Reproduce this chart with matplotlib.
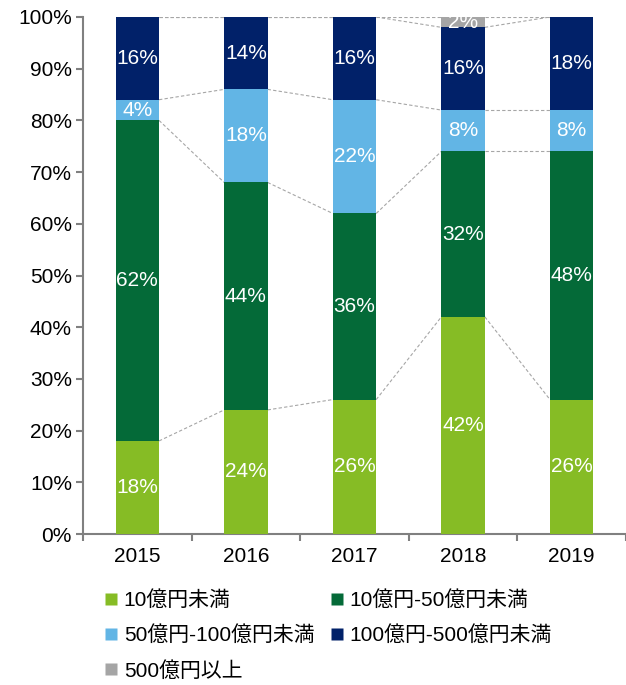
import matplotlib
matplotlib.use("Agg")
import matplotlib.pyplot as plt
from matplotlib.lines import Line2D
import numpy as np

plt.rcParams['font.family'] = ['Liberation Sans', 'Noto Sans CJK JP', 'DejaVu Sans']

years = ["2015", "2016", "2017", "2018", "2019"]
series_names = ["10億円未満", "10億円-50億円未満", "50億円-100億円未満", "100億円-500億円未満", "500億円以上"]
s_lt10 = [18, 24, 26, 42, 26]
s_10_50 = [62, 44, 36, 32, 48]
s_50_100 = [4, 18, 22, 8, 8]
s_100_500 = [16, 14, 16, 16, 18]
s_500plus = [0, 0, 0, 2, 0]
yticks = [0, 10, 20, 30, 40, 50, 60, 70, 80, 90, 100]

series = [s_lt10, s_10_50, s_50_100, s_100_500, s_500plus]
colors = ["#86BC25", "#046A38", "#62B5E5", "#012169", "#A5A5A5"]

fig = plt.figure(figsize=(6.26, 6.85), dpi=100)
ax = fig.add_axes([83/626, 1 - 534/685, 1 - 83/626, 517/685])

x = np.arange(len(years))
w = 0.4
bottom = np.zeros(len(years))
tops = []
for vals, c in zip(series, colors):
    v = np.array(vals, dtype=float)
    ax.bar(x, v, w, bottom=bottom, color=c, edgecolor='none', zorder=3)
    for i in range(len(years)):
        if v[i] > 0:
            ax.text(x[i], bottom[i] + v[i] / 2, f"{int(v[i])}%", ha='center', va='center',
                    color='white', fontsize=15, zorder=4)
    bottom = bottom + v
    tops.append(bottom.copy())

for t in tops:
    for i in range(len(years) - 1):
        ax.plot([x[i] + w / 2, x[i + 1] - w / 2], [t[i], t[i + 1]], color='#A6A6A6',
                lw=0.8, ls=(0, (3, 2)), zorder=2)

ax.set_xlim(-0.5, 4 + 48/110)
ax.set_ylim(0, 100)
ax.set_yticks(yticks)
ax.set_yticklabels([f"{t}%" for t in yticks], fontsize=15)
ax.set_xticks(x)
ax.set_xticklabels(years, fontsize=15)
ax.set_xticks(np.arange(-0.5, 4.6, 1), minor=True)
ax.tick_params(axis='x', which='major', length=0, pad=9)
ax.tick_params(axis='x', which='minor', length=5, color='#808080', width=1.5)
ax.tick_params(axis='y', length=5, color='#808080', width=1.5, pad=3)
for s in ['top', 'right']:
    ax.spines[s].set_visible(False)
for s in ['left', 'bottom']:
    ax.spines[s].set_color('#808080')
    ax.spines[s].set_linewidth(1.5)

handles = [Line2D([0], [0], marker='s', color='none', markerfacecolor=c, markeredgecolor='none',
                  markersize=8) for c in colors]
order = [0, 2, 4, 1, 3]
fig.legend([handles[i] for i in order], [series_names[i] for i in order],
           loc='upper left', bbox_to_anchor=(105/626, 1 - 590/685),
           ncol=2, frameon=False, fontsize=15, handlelength=0.6, handletextpad=0.3,
           columnspacing=0.8, labelspacing=0.75, borderaxespad=0, borderpad=0)

fig.savefig("out.png", dpi=100)
